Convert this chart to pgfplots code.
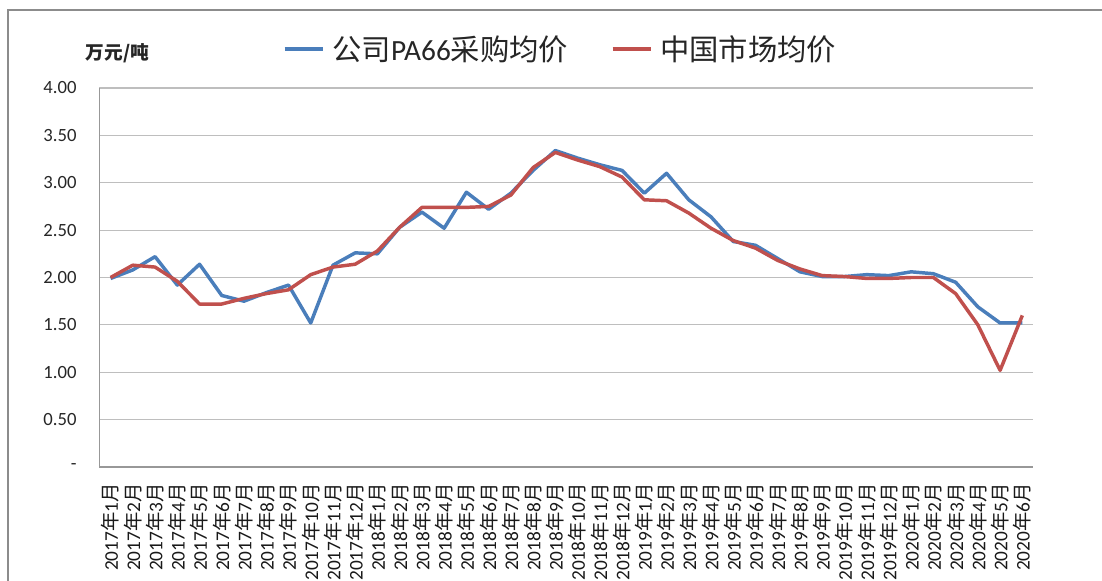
\documentclass[border=0pt]{standalone}
\usepackage{fontspec}
\setmainfont{Carlito}
\newfontfamily\cjk{Noto Sans CJK SC}
\usepackage{pgfplots}
\pgfplotsset{compat=1.18}
\usepackage{pgfplotstable}
\definecolor{sblue}{RGB}{74,126,187}
\definecolor{sred}{RGB}{192,80,77}
\definecolor{gridc}{RGB}{190,190,190}
\definecolor{framec}{RGB}{140,140,140}
\newcommand{\ym}[2]{#1{\cjk 年}#2{\cjk 月}}
\pgfplotstableread{
x blue red
0 1.99 2.00
1 2.08 2.13
2 2.22 2.11
3 1.92 1.96
4 2.14 1.72
5 1.81 1.72
6 1.75 1.78
7 1.84 1.83
8 1.92 1.87
9 1.52 2.03
10 2.13 2.11
11 2.26 2.14
12 2.25 2.28
13 2.53 2.53
14 2.69 2.74
15 2.52 2.74
16 2.90 2.74
17 2.72 2.75
18 2.89 2.87
19 3.13 3.16
20 3.34 3.32
21 3.26 3.24
22 3.19 3.17
23 3.13 3.06
24 2.89 2.82
25 3.10 2.81
26 2.82 2.68
27 2.64 2.52
28 2.38 2.39
29 2.34 2.31
30 2.20 2.18
31 2.06 2.09
32 2.01 2.02
33 2.01 2.01
34 2.03 1.99
35 2.02 1.99
36 2.06 2.00
37 2.04 2.00
38 1.95 1.83
39 1.69 1.50
40 1.52 1.02
41 1.52 1.60
}\datatable
\begin{document}
\begin{tikzpicture}
\useasboundingbox (-74.6pt,-85.5pt) rectangle (751.9pt,350.25pt);
\begin{axis}[
  at={(0pt,0pt)}, anchor=south west,
  scale only axis,
  width=700.5pt, height=284.25pt,
  xmin=-0.5, xmax=41.5, ymin=0, ymax=4,
  axis x line=bottom, axis y line=left,
  axis line style={-, draw=gridc!80!black, line width=0.9pt},
  major tick length=0pt,
  ymajorgrids, grid style={draw=gridc, line width=0.9pt},
  ytick={0,0.5,1,1.5,2,2.5,3,3.5,4},
  yticklabels={-,0.50,1.00,1.50,2.00,2.50,3.00,3.50,4.00},
  yticklabel style={font=\fontsize{14}{16}\selectfont, text=black!85, anchor=east, inner xsep=0pt, xshift=-17pt},
  xtick={0,...,41},
  xticklabels={\ym{2017}{1},\ym{2017}{2},\ym{2017}{3},\ym{2017}{4},\ym{2017}{5},\ym{2017}{6},\ym{2017}{7},\ym{2017}{8},\ym{2017}{9},\ym{2017}{10},\ym{2017}{11},\ym{2017}{12},
  \ym{2018}{1},\ym{2018}{2},\ym{2018}{3},\ym{2018}{4},\ym{2018}{5},\ym{2018}{6},\ym{2018}{7},\ym{2018}{8},\ym{2018}{9},\ym{2018}{10},\ym{2018}{11},\ym{2018}{12},
  \ym{2019}{1},\ym{2019}{2},\ym{2019}{3},\ym{2019}{4},\ym{2019}{5},\ym{2019}{6},\ym{2019}{7},\ym{2019}{8},\ym{2019}{9},\ym{2019}{10},\ym{2019}{11},\ym{2019}{12},
  \ym{2020}{1},\ym{2020}{2},\ym{2020}{3},\ym{2020}{4},\ym{2020}{5},\ym{2020}{6}},
  xticklabel style={font=\fontsize{14.5}{16}\selectfont, text=black!90, rotate=90, anchor=east, inner xsep=12pt, inner ysep=0pt},
  legend columns=2,
  legend style={draw=none, fill=none, inner sep=0pt, outer sep=0pt,
    at={(0.1965,1.1029)}, anchor=west,
    font=\fontsize{22}{24}\selectfont,
    nodes={inner sep=0pt, text=black!85},
    /tikz/every even column/.append style={column sep=32pt}},
  legend image code/.code={\draw[#1] (0pt,0pt) -- (28.5pt,0pt); \path (0pt,-6pt) (34.5pt,6pt);},
  clip=false,
]
\addplot[sblue, line width=2.6pt, line join=round] table[x=x, y=blue] {\datatable};
\addlegendentry{{\cjk 公司}PA66{\cjk 采购均价}}
\addplot[sred, line width=2.6pt, line join=round] table[x=x, y=red] {\datatable};
\addlegendentry{{\cjk 中国市场均价}}
\node[font=\cjk\bfseries\fontsize{14}{16}\selectfont, text=black!85] at (axis description cs:0.0193,1.092) {万元/吨};
\end{axis}
\draw[framec, line width=1.1pt] (-68.6pt,-90pt) -- (-68.6pt,342.75pt) -- (753pt,342.75pt);
\end{tikzpicture}
\end{document}
